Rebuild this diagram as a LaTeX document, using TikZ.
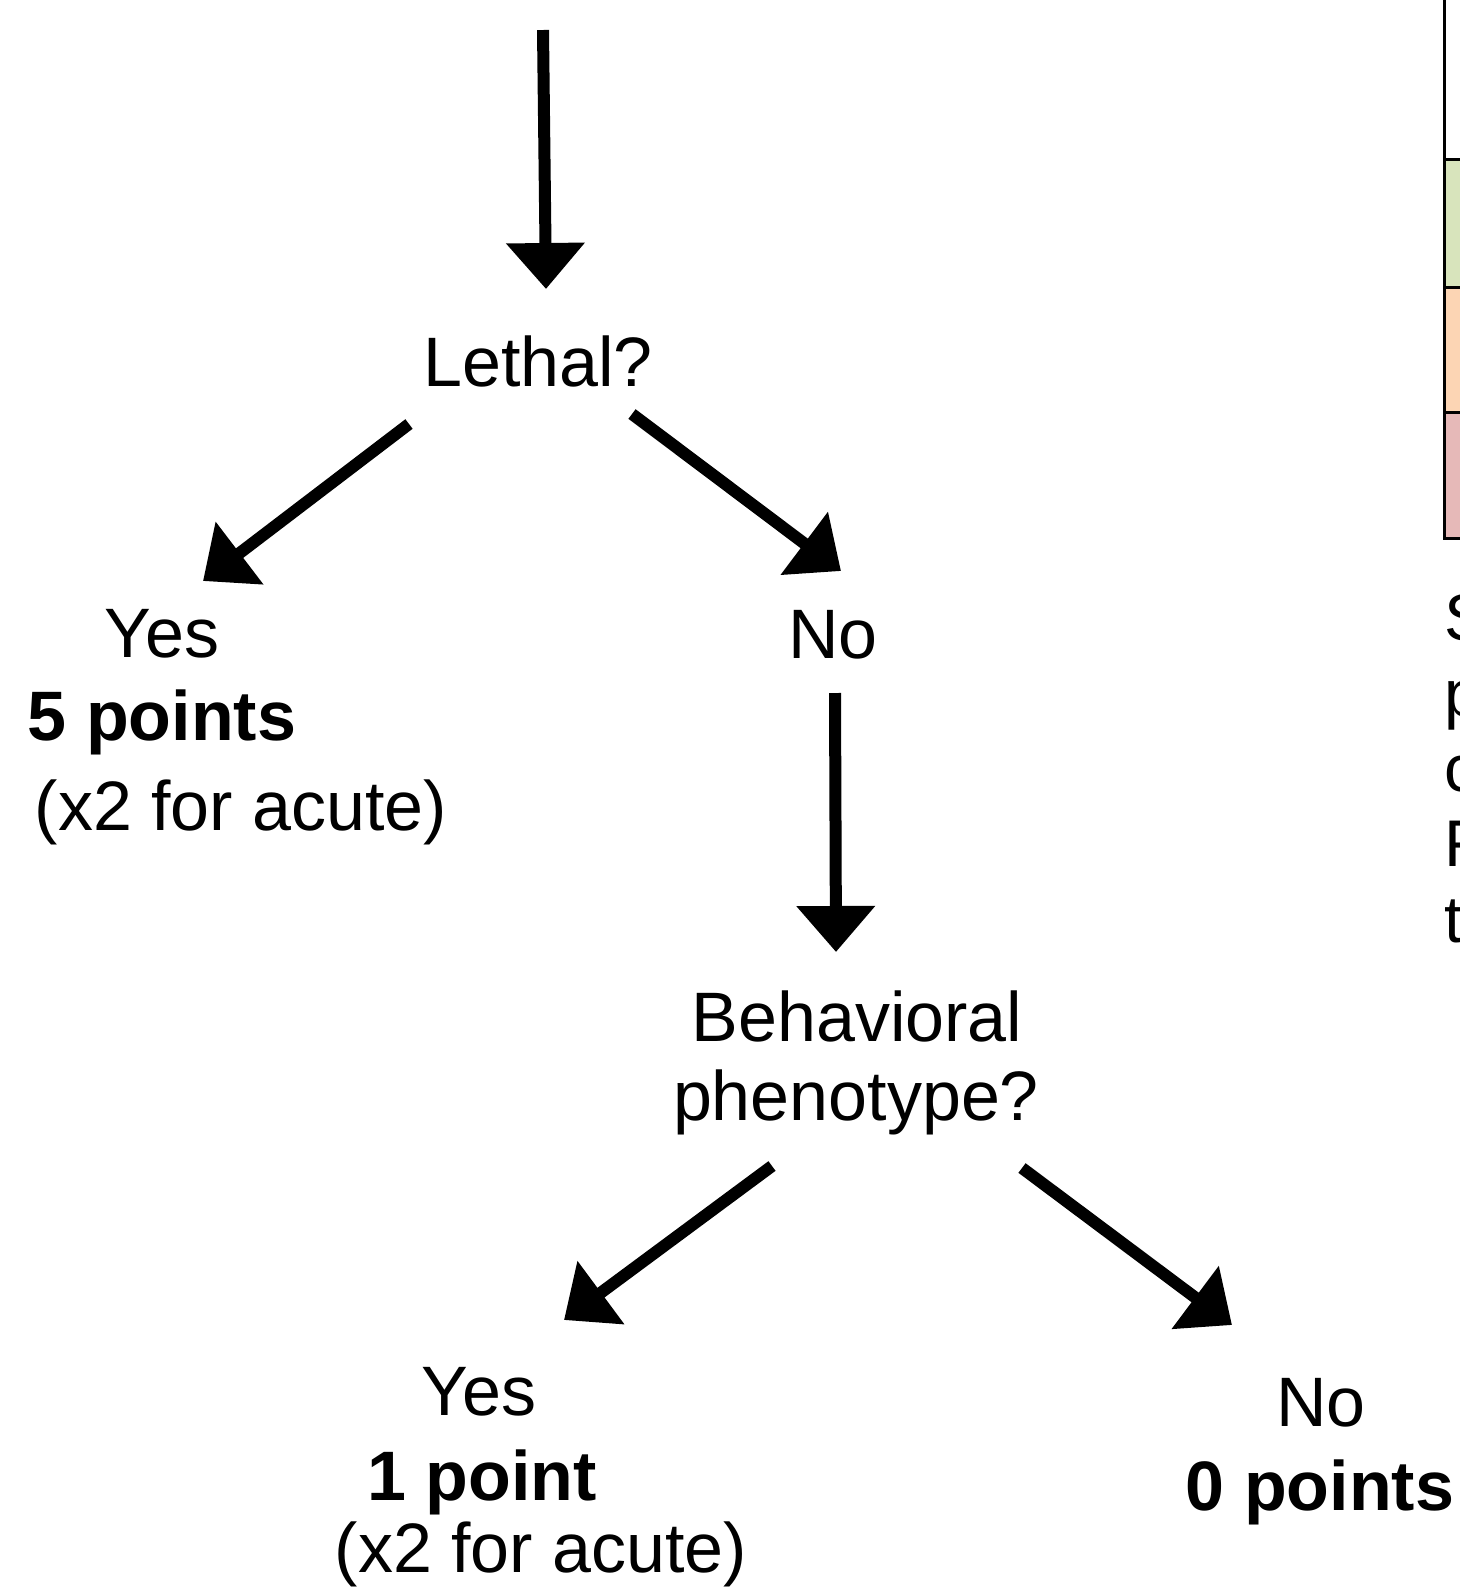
\documentclass[tikz,border=0pt]{standalone}
\usepackage{fontspec}
\setmainfont{Liberation Sans}
\usetikzlibrary{arrows.meta}

\definecolor{cellgreen}{HTML}{D8E4BC}
\definecolor{cellpeach}{HTML}{FCD5B4}
\definecolor{cellpink}{HTML}{E6B9B8}

\tikzset{
	arr/.style={line width=6pt, -{Triangle[width=38pt,length=23pt]}},
	lbl/.style={anchor=base, inner sep=0pt, font=\fontsize{35}{42}\selectfont},
	side/.style={anchor=base west, inner sep=0pt, font=\fontsize{33}{40}\selectfont},
}

\begin{document}
\begin{tikzpicture}[x=0.5pt, y=-0.5pt]
				\useasboundingbox (0,0) rectangle (1460,1592);
				\clip (0,0) rectangle (1460,1592);
				% key table, cut off at the right edge
				\fill[cellgreen] (1444,159) rectangle (1460,287);
				\fill[cellpeach] (1444,287) rectangle (1460,412);
				\fill[cellpink] (1444,412) rectangle (1460,538);
				\draw[line width=1.5pt] (1444,0) -- (1444,538) -- (1460,538);
				\foreach \y in {159,287,412} {
						\draw[line width=1.5pt] (1444,\y) -- (1460,\y);
					}
				\node[side] (s1) at (1444,640) {S};
				\node[side] (s2) at (1444,716) {p};
				\node[side] (s3) at (1444,791) {c};
				\node[side] (s4) at (1444,866) {F};
				\node[side] (s5) at (1444,942) {t};
				% first question
				\node[lbl] (lethal) at (538,386) {Lethal?};
				\node[lbl] (yes1) at (162,657) {Yes};
				\node[lbl] (pts5) at (162,740) {\bf 5 points};
				\node[lbl] (acute1) at (241,830) {(x2 for acute)};
				\node[lbl] (no1) at (833,658) {No};
				% second question
				\node[lbl] (behav) at (857,1041) {Behavioral};
				\node[lbl] (pheno) at (856,1120) {phenotype?};
				\node[lbl] (yes2) at (479,1415) {Yes};
				\node[lbl] (pts1) at (482,1500) {\bf 1 point};
				\node[lbl] (acute2) at (541,1572) {(x2 for acute)};
				\node[lbl] (no2) at (1321,1426) {No};
				\node[lbl] (pts0) at (1320,1510) {\bf 0 points};
				% arrow ends
				\coordinate (in) at (543,30);
				\coordinate (lethalIn) at (546,289);
				\coordinate (lethalL) at (409,424);
				\coordinate (yes1In) at (203,581);
				\coordinate (lethalR) at (632,414);
				\coordinate (no1In) at (841,571);
				\coordinate (no1Out) at (835,693);
				\coordinate (behavIn) at (836,952);
				\coordinate (phenoL) at (772,1166);
				\coordinate (yes2In) at (564,1320);
				\coordinate (phenoR) at (1022,1168);
				\coordinate (no2In) at (1232,1325);
				\draw[arr] (in) -- (lethalIn);
				\draw[arr] (lethalL) -- (yes1In);
				\draw[arr] (lethalR) -- (no1In);
				\draw[arr] (no1Out) -- (behavIn);
				\draw[arr] (phenoL) -- (yes2In);
				\draw[arr] (phenoR) -- (no2In);
			\end{tikzpicture}
\end{document}
